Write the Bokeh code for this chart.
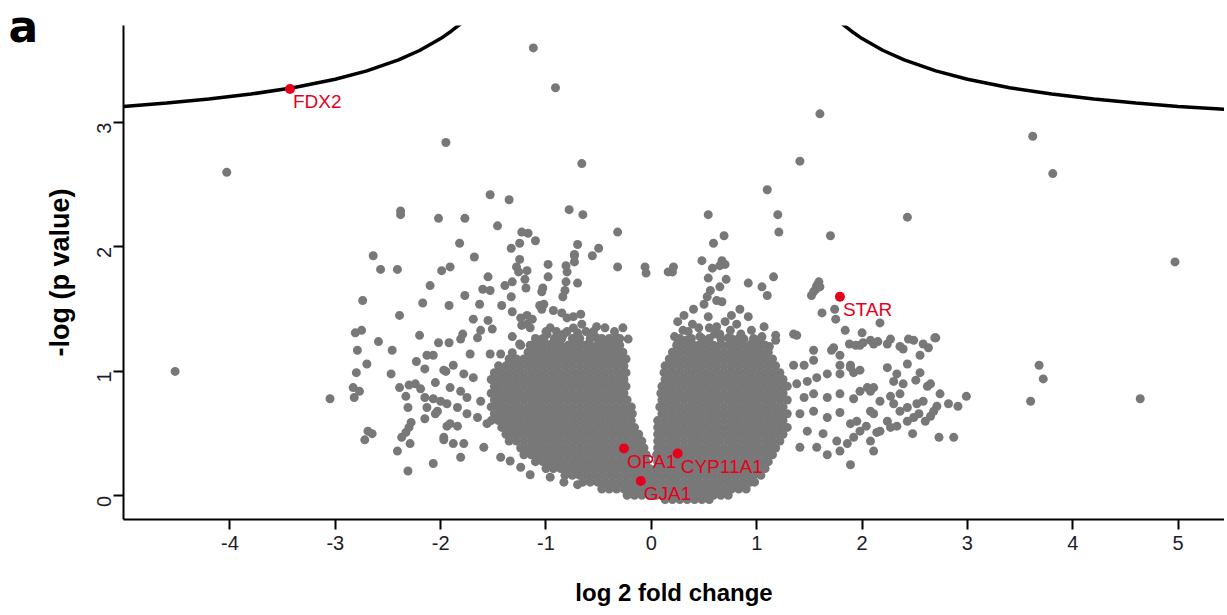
import math
from bokeh.plotting import figure
from bokeh.models import Range1d, ColumnDataSource, FixedTicker
from bokeh.core.properties import value
from bokeh.embed import file_html
from bokeh.resources import INLINE

# ---------------- data ----------------
X_TICKS = [-4, -3, -2, -1, 0, 1, 2, 3, 4, 5]
Y_TICKS = [0, 1, 2, 3]

# threshold curve (left and right branch)
CURVE_L_X = [-5.01, -4.6, -4.2, -3.8, -3.4, -3.0, -2.7, -2.4, -2.2, -2.0, -1.9, -1.80]
CURVE_L_Y = [3.13, 3.157, 3.189, 3.229, 3.28, 3.348, 3.415, 3.503, 3.579, 3.675, 3.734, 3.80]
CURVE_R_X = [1.80, 1.9, 2.0, 2.2, 2.4, 2.7, 3.0, 3.4, 3.8, 4.2, 4.6, 5.0, 5.44]
CURVE_R_Y = [3.80, 3.734, 3.675, 3.579, 3.503, 3.415, 3.348, 3.28, 3.229, 3.189, 3.157, 3.13, 3.106]

# highlighted genes
GENES = ["FDX2", "STAR", "OPA1", "CYP11A1", "GJA1"]
GENE_X = [-3.43, 1.79, -0.26, 0.25, -0.10]
GENE_Y = [3.27, 1.60, 0.38, 0.34, 0.12]

# isolated / fringe proteins
SCATTER_POINTS = [
    (-1.12, 3.60), (-0.91, 3.28), (-1.95, 2.84), (-4.03, 2.60), (-0.66, 2.67), (1.60, 3.07),
    (1.41, 2.69), (1.10, 2.46), (1.20, 2.26), (1.21, 2.12), (1.70, 2.09), (0.54, 2.26),
    (0.69, 2.09), (0.59, 2.03), (-1.53, 2.42), (-1.35, 2.38), (-1.77, 2.23), (-2.02, 2.23),
    (-1.46, 2.17), (-1.82, 2.03), (-1.23, 2.12), (-1.17, 2.11), (-1.25, 2.03), (-1.10, 2.05),
    (-1.33, 1.99), (-0.78, 2.30), (-0.65, 2.26), (-0.32, 2.12), (-0.70, 2.02), (-0.50, 1.99),
    (-0.73, 1.93), (-0.56, 1.93), (-1.68, 1.92), (-1.25, 1.90), (0.48, 1.89), (0.67, 1.89),
    (3.62, 2.89), (3.81, 2.59), (2.43, 2.24), (4.97, 1.88), (4.64, 0.78), (2.99, 0.80),
    (3.60, 0.76), (3.68, 1.05), (3.72, 0.94), (2.70, 1.27), (2.87, 0.47), (2.73, 0.47),
    (-2.38, 2.29), (-2.38, 2.26), (-2.64, 1.93), (-2.57, 1.82), (-2.41, 1.82), (-1.99, 1.81),
    (-1.91, 1.84), (-2.10, 1.69), (-2.74, 1.57), (-2.17, 1.55), (-1.92, 1.53), (-2.39, 1.45),
    (-2.81, 1.31), (-2.75, 1.33), (-2.20, 1.29), (-2.59, 1.24), (-2.02, 1.23), (-1.92, 1.23),
    (-2.79, 1.17), (-2.46, 1.17),
    (-4.52, 1.00), (-3.05, 0.78), (-2.70, 1.06), (-2.80, 0.99), (-2.47, 0.98), (-2.23, 1.08),
    (-2.13, 1.13), (-2.07, 1.13), (-2.15, 1.02), (-2.05, 0.91), (-1.95, 1.00), (-2.83, 0.87),
    (-2.77, 0.84), (-2.82, 0.79), (-2.39, 0.87), (-2.30, 0.89), (-2.24, 0.90), (-2.19, 0.86),
    (-2.33, 0.80), (-2.15, 0.79), (-2.07, 0.78), (-2.00, 0.76), (-2.31, 0.71), (-2.13, 0.71),
    (-2.03, 0.68), (-2.05, 0.66), (-2.15, 0.62), (-1.94, 0.56), (-2.28, 0.59), (-2.30, 0.55),
    (-2.33, 0.51), (-2.37, 0.47), (-2.69, 0.52), (-2.65, 0.50), (-2.72, 0.45), (-2.29, 0.42),
    (-1.97, 0.45), (-2.41, 0.36), (-2.07, 0.26), (-2.31, 0.20),
    (-0.73, 1.94), (-0.73, 1.88), (-0.32, 1.84), (-1.28, 1.84), (-1.18, 1.81), (-1.26, 1.80),
    (-0.98, 1.86), (-0.98, 1.76), (-0.81, 1.85), (-0.80, 1.80), (-1.55, 1.76), (-1.20, 1.74),
    (-0.81, 1.72), (-0.70, 1.71), (-1.32, 1.72), (-1.39, 1.69), (-1.19, 1.67), (-1.60, 1.66),
    (-1.53, 1.65), (-1.03, 1.67), (-1.04, 1.64), (-0.82, 1.65), (-0.84, 1.60), (-1.77, 1.61),
    (-1.33, 1.60), (-1.63, 1.54), (-1.42, 1.53), (-1.06, 1.53), (-1.02, 1.54), (-1.04, 1.50),
    (-1.32, 1.48), (-0.93, 1.49), (-0.85, 1.47), (-0.80, 1.43), (-0.74, 1.44), (-0.67, 1.46),
    (-1.69, 1.42), (-1.55, 1.41), (-1.24, 1.43), (-1.18, 1.45), (-1.13, 1.42), (-1.23, 1.37),
    (-1.18, 1.38), (-1.15, 1.35), (-1.51, 1.34), (-1.62, 1.33), (-1.65, 1.27), (-1.79, 1.30),
    (-1.81, 1.26), (-1.32, 1.28), (-0.96, 1.35), (-0.99, 1.30), (-1.02, 1.26), (-0.66, 1.38),
    (-0.74, 1.35), (-0.70, 1.31), (-0.83, 1.30), (-0.88, 1.25), (-0.52, 1.36), (-0.44, 1.35),
    (-0.27, 1.35), (-0.22, 1.26), (-0.33, 1.27), (-0.39, 1.23), (-0.52, 1.27), (-1.72, 1.14),
    (-1.53, 1.14), (-1.43, 1.14), (-1.32, 1.15), (-0.06, 1.84), (-0.05, 1.79), (0.16, 1.80),
    (-1.15, 1.21), (-1.05, 1.20), (-0.95, 1.22), (-0.88, 1.19), (-0.78, 1.21), (-0.70, 1.20),
    (-0.60, 1.22), (-0.50, 1.20), (-0.42, 1.19), (-0.35, 1.21), (-1.25, 1.22),
    (-1.88, 1.05), (-1.97, 1.01), (-1.78, 0.98), (-1.69, 0.95), (-1.91, 0.87), (-1.81, 0.84),
    (-1.75, 0.79), (-1.62, 0.76), (-1.94, 0.74), (-1.84, 0.71), (-1.75, 0.66), (-1.65, 0.63),
    (-1.91, 0.58), (-1.84, 0.56), (-1.56, 0.58), (-1.97, 0.47), (-1.88, 0.42), (-1.78, 0.42),
    (-1.59, 0.39), (-1.81, 0.31), (-1.43, 0.31), (-1.34, 0.28), (-1.24, 0.23), (-1.15, 0.17),
    (-0.96, 0.15), (-0.83, 0.11), (-0.70, 0.09),
    (0.21, 1.84), (0.20, 1.80), (0.58, 1.83), (0.65, 1.85), (0.70, 1.86), (0.54, 1.75),
    (0.71, 1.74), (0.65, 1.68), (0.92, 1.71), (1.16, 1.76), (1.05, 1.68), (1.10, 1.61),
    (0.56, 1.65), (0.53, 1.60), (0.62, 1.57), (0.67, 1.56), (0.50, 1.54), (0.40, 1.50),
    (0.31, 1.45), (0.39, 1.38), (0.54, 1.44), (0.84, 1.50), (0.76, 1.45), (0.81, 1.38),
    (0.92, 1.44), (1.07, 1.36), (1.18, 1.29), (1.62, 1.47), (1.74, 1.50), (2.17, 1.39),
    (2.00, 1.31), (1.88, 1.22), (2.01, 1.23), (2.08, 1.25), (2.15, 1.24), (2.39, 1.18),
    (2.49, 1.25), (1.35, 1.30), (1.38, 1.29), (1.18, 1.25), (1.54, 1.17), (1.71, 1.17),
    (1.79, 1.13), (1.59, 1.72), (1.57, 1.69), (1.56, 1.66), (1.54, 1.64), (1.52, 1.61),
    (1.60, 1.68),
    (0.25, 1.22), (0.33, 1.25), (0.40, 1.21), (0.46, 1.28), (0.52, 1.23), (0.60, 1.30),
    (0.66, 1.22), (0.73, 1.27), (0.80, 1.21), (0.88, 1.26), (0.95, 1.22), (1.02, 1.19),
    (0.30, 1.33), (0.45, 1.35), (0.62, 1.36), (0.70, 1.40), (0.22, 1.28), (0.25, 1.40),
    (0.35, 1.32), (0.55, 1.35), (0.65, 1.30), (0.75, 1.33), (0.85, 1.30), (0.95, 1.33),
    (1.05, 1.28), (1.12, 1.20),
    (1.35, 1.05), (1.45, 1.05), (1.54, 1.09), (1.73, 1.19), (1.89, 1.03), (1.98, 1.21),
    (2.11, 1.22), (2.24, 1.22), (2.58, 1.22), (1.38, 0.90), (1.48, 0.92), (1.57, 0.95),
    (1.67, 0.98), (1.79, 0.98), (1.92, 0.99), (2.05, 0.87), (2.11, 0.87), (2.24, 1.03),
    (2.30, 0.92), (2.39, 0.90), (2.43, 1.06), (2.55, 0.99), (2.65, 0.90), (1.45, 0.79),
    (1.54, 0.82), (1.67, 0.79), (1.79, 0.82), (1.92, 0.78), (1.98, 0.84), (2.08, 0.84),
    (2.17, 0.76), (2.30, 0.74), (2.36, 0.82), (2.43, 0.71), (2.52, 0.74), (2.58, 0.76),
    (2.68, 0.68), (1.41, 0.66), (1.54, 0.68), (1.67, 0.63), (1.79, 0.67), (1.89, 0.58),
    (1.95, 0.60), (2.11, 0.66), (2.24, 0.60), (2.27, 0.55), (2.36, 0.68), (2.49, 0.63),
    (2.60, 0.60), (1.48, 0.52), (1.63, 0.50), (1.76, 0.44), (1.86, 0.42), (1.92, 0.47),
    (1.98, 0.52), (2.08, 0.44), (2.11, 0.36), (2.17, 0.52), (1.41, 0.39), (1.57, 0.39),
    (1.67, 0.33), (1.79, 0.36), (1.89, 0.25),
    (1.75, 1.42), (1.84, 1.33), (1.94, 1.21), (2.27, 1.26), (2.36, 1.20), (2.44, 1.26),
    (2.55, 1.13), (2.63, 1.19), (2.69, 1.27), (2.33, 0.98), (2.51, 0.93), (2.62, 0.88),
    (2.74, 0.82), (2.82, 0.74), (2.91, 0.72), (2.71, 0.72), (2.65, 0.64), (2.54, 0.66),
    (2.43, 0.60), (2.33, 0.56), (2.14, 0.51), (2.04, 0.56), (2.48, 0.50), (2.08, 0.68),
    (2.27, 0.80), (1.98, 1.01), (1.89, 1.05), (1.79, 1.05),
]

# dense core of the left cloud: one row of x values per y level
LEFT_CORE_Y = [1.32, 1.265, 1.21, 1.155, 1.10, 1.045, 0.99, 0.935, 0.88, 0.825, 0.77, 0.715, 0.66, 0.605,
               0.55, 0.495, 0.44, 0.385, 0.33, 0.275, 0.22, 0.165, 0.11, 0.055, 0.005]
LEFT_CORE_X = [
    [-1.00, -0.90, -0.80, -0.62, -0.55, -0.35],
    [-1.10, -1.03, -0.92, -0.85, -0.75, -0.68, -0.58, -0.47, -0.40, -0.30],
    [-1.24, -1.14, -1.07, -1.00, -0.93, -0.86, -0.79, -0.72, -0.65, -0.58, -0.51, -0.44, -0.37, -0.30],
    [-1.17, -1.10, -1.03, -0.96, -0.89, -0.82, -0.75, -0.68, -0.61, -0.54, -0.47, -0.40, -0.33, -0.27],
    [-1.35, -1.28, -1.21, -1.14, -1.07, -1.00, -0.93, -0.86, -0.79, -0.72, -0.65, -0.58, -0.51, -0.44, -0.37, -0.30, -0.24],
    [-1.45, -1.38, -1.31, -1.24, -1.17, -1.10, -1.03, -0.96, -0.89, -0.82, -0.75, -0.68, -0.61, -0.54, -0.47, -0.40, -0.33, -0.26],
    [-1.49, -1.42, -1.35, -1.28, -1.21, -1.14, -1.07, -1.00, -0.93, -0.86, -0.79, -0.72, -0.65, -0.58, -0.51, -0.44, -0.37, -0.30, -0.24],
    [-1.52, -1.45, -1.38, -1.31, -1.24, -1.17, -1.10, -1.03, -0.96, -0.89, -0.82, -0.75, -0.68, -0.61, -0.54, -0.47, -0.40, -0.33, -0.26],
    [-1.49, -1.42, -1.35, -1.28, -1.21, -1.14, -1.07, -1.00, -0.93, -0.86, -0.79, -0.72, -0.65, -0.58, -0.51, -0.44, -0.37, -0.30, -0.24],
    [-1.52, -1.45, -1.38, -1.31, -1.24, -1.17, -1.10, -1.03, -0.96, -0.89, -0.82, -0.75, -0.68, -0.61, -0.54, -0.47, -0.40, -0.33, -0.26],
    [-1.49, -1.42, -1.35, -1.28, -1.21, -1.14, -1.07, -1.00, -0.93, -0.86, -0.79, -0.72, -0.65, -0.58, -0.51, -0.44, -0.37, -0.30, -0.23],
    [-1.52, -1.45, -1.38, -1.31, -1.24, -1.17, -1.10, -1.03, -0.96, -0.89, -0.82, -0.75, -0.68, -0.61, -0.54, -0.47, -0.40, -0.33, -0.26, -0.19],
    [-1.49, -1.42, -1.35, -1.28, -1.21, -1.14, -1.07, -1.00, -0.93, -0.86, -0.79, -0.72, -0.65, -0.58, -0.51, -0.44, -0.37, -0.30, -0.23, -0.18],
    [-1.52, -1.45, -1.38, -1.31, -1.24, -1.17, -1.10, -1.03, -0.96, -0.89, -0.82, -0.75, -0.68, -0.61, -0.54, -0.47, -0.40, -0.33, -0.26, -0.19],
    [-1.42, -1.35, -1.28, -1.21, -1.14, -1.07, -1.00, -0.93, -0.86, -0.79, -0.72, -0.65, -0.58, -0.51, -0.44, -0.37, -0.30, -0.23, -0.16],
    [-1.38, -1.31, -1.24, -1.17, -1.10, -1.03, -0.96, -0.89, -0.82, -0.75, -0.68, -0.61, -0.54, -0.47, -0.40, -0.33, -0.26, -0.19, -0.12],
    [-1.35, -1.28, -1.21, -1.14, -1.07, -1.00, -0.93, -0.86, -0.79, -0.72, -0.65, -0.58, -0.51, -0.44, -0.37, -0.30, -0.23, -0.16, -0.09],
    [-1.24, -1.17, -1.10, -1.03, -0.96, -0.89, -0.82, -0.75, -0.68, -0.61, -0.54, -0.47, -0.40, -0.33, -0.26, -0.19, -0.12, -0.07],
    [-1.21, -1.14, -1.07, -1.00, -0.93, -0.86, -0.79, -0.72, -0.65, -0.58, -0.51, -0.44, -0.37, -0.30, -0.23, -0.16, -0.09, -0.05],
    [-1.10, -1.03, -0.96, -0.89, -0.82, -0.75, -0.68, -0.61, -0.54, -0.47, -0.40, -0.33, -0.26, -0.19, -0.12, -0.05],
    [-1.00, -0.93, -0.86, -0.79, -0.72, -0.65, -0.58, -0.51, -0.44, -0.37, -0.30, -0.23, -0.16, -0.09, -0.02],
    [-0.82, -0.75, -0.68, -0.61, -0.54, -0.47, -0.40, -0.33, -0.26, -0.19, -0.12, -0.05, -0.01],
    [-0.65, -0.58, -0.51, -0.44, -0.37, -0.30, -0.23, -0.16, -0.09, -0.02],
    [-0.47, -0.40, -0.33, -0.26, -0.19, -0.12, -0.05, 0.01],
    [-0.23, -0.16, -0.09, -0.02, 0.03],
]

# dense core of the right cloud
RIGHT_CORE_Y = [1.265, 1.21, 1.155, 1.10, 1.045, 0.99, 0.935, 0.88, 0.825, 0.77, 0.715, 0.66, 0.605,
                0.55, 0.495, 0.44, 0.385, 0.33, 0.275, 0.22, 0.165, 0.11, 0.055, 0.005, -0.03]
RIGHT_CORE_X = [
    [0.27, 0.38, 0.48, 0.55, 0.66, 0.76, 0.83, 0.97, 1.04],
    [0.24, 0.31, 0.38, 0.45, 0.52, 0.59, 0.66, 0.73, 0.80, 0.87, 0.94, 1.01, 1.08],
    [0.20, 0.27, 0.34, 0.41, 0.48, 0.55, 0.62, 0.69, 0.76, 0.83, 0.90, 0.97, 1.04, 1.11],
    [0.17, 0.24, 0.31, 0.38, 0.45, 0.52, 0.59, 0.66, 0.73, 0.80, 0.87, 0.94, 1.01, 1.08, 1.15],
    [0.13, 0.20, 0.27, 0.34, 0.41, 0.48, 0.55, 0.62, 0.69, 0.76, 0.83, 0.90, 0.97, 1.04, 1.11, 1.18],
    [0.12, 0.17, 0.24, 0.31, 0.38, 0.45, 0.52, 0.59, 0.66, 0.73, 0.80, 0.87, 0.94, 1.01, 1.08, 1.15, 1.22],
    [0.13, 0.20, 0.27, 0.34, 0.41, 0.48, 0.55, 0.62, 0.69, 0.76, 0.83, 0.90, 0.97, 1.04, 1.11, 1.18, 1.25],
    [0.10, 0.17, 0.24, 0.31, 0.38, 0.45, 0.52, 0.59, 0.66, 0.73, 0.80, 0.87, 0.94, 1.01, 1.08, 1.15, 1.22, 1.29],
    [0.09, 0.13, 0.20, 0.27, 0.34, 0.41, 0.48, 0.55, 0.62, 0.69, 0.76, 0.83, 0.90, 0.97, 1.04, 1.11, 1.18, 1.25],
    [0.10, 0.17, 0.24, 0.31, 0.38, 0.45, 0.52, 0.59, 0.66, 0.73, 0.80, 0.87, 0.94, 1.01, 1.08, 1.15, 1.22, 1.29],
    [0.08, 0.13, 0.20, 0.27, 0.34, 0.41, 0.48, 0.55, 0.62, 0.69, 0.76, 0.83, 0.90, 0.97, 1.04, 1.11, 1.18, 1.25],
    [0.10, 0.17, 0.24, 0.31, 0.38, 0.45, 0.52, 0.59, 0.66, 0.73, 0.80, 0.87, 0.94, 1.01, 1.08, 1.15, 1.22, 1.29],
    [0.06, 0.13, 0.20, 0.27, 0.34, 0.41, 0.48, 0.55, 0.62, 0.69, 0.76, 0.83, 0.90, 0.97, 1.04, 1.11, 1.18, 1.25],
    [0.06, 0.10, 0.17, 0.24, 0.31, 0.38, 0.45, 0.52, 0.59, 0.66, 0.73, 0.80, 0.87, 0.94, 1.01, 1.08, 1.15, 1.22, 1.29],
    [0.06, 0.13, 0.20, 0.27, 0.34, 0.41, 0.48, 0.55, 0.62, 0.69, 0.76, 0.83, 0.90, 0.97, 1.04, 1.11, 1.18, 1.25],
    [0.06, 0.10, 0.17, 0.24, 0.31, 0.38, 0.45, 0.52, 0.59, 0.66, 0.73, 0.80, 0.87, 0.94, 1.01, 1.08, 1.15, 1.22],
    [0.06, 0.13, 0.20, 0.27, 0.34, 0.41, 0.48, 0.55, 0.62, 0.69, 0.76, 0.83, 0.90, 0.97, 1.04, 1.11, 1.18],
    [0.05, 0.10, 0.17, 0.24, 0.31, 0.38, 0.45, 0.52, 0.59, 0.66, 0.73, 0.80, 0.87, 0.94, 1.01, 1.08, 1.15],
    [0.06, 0.13, 0.20, 0.27, 0.34, 0.41, 0.48, 0.55, 0.62, 0.69, 0.76, 0.83, 0.90, 0.97, 1.04, 1.11],
    [0.05, 0.10, 0.17, 0.24, 0.31, 0.38, 0.45, 0.52, 0.59, 0.66, 0.73, 0.80, 0.87, 0.94, 1.01, 1.08],
    [0.03, 0.06, 0.13, 0.20, 0.27, 0.34, 0.41, 0.48, 0.55, 0.62, 0.69, 0.76, 0.83, 0.90, 0.97, 1.04],
    [0.03, 0.10, 0.17, 0.24, 0.31, 0.38, 0.45, 0.52, 0.59, 0.66, 0.73, 0.80, 0.87, 0.94, 0.98],
    [0.02, 0.06, 0.13, 0.20, 0.27, 0.34, 0.41, 0.48, 0.55, 0.62, 0.69, 0.76, 0.83, 0.90],
    [0.05, 0.10, 0.17, 0.24, 0.31, 0.38, 0.45, 0.52, 0.59, 0.66, 0.73],
    [0.13, 0.20, 0.27, 0.34, 0.41, 0.48, 0.55],
]

# ---------------- assemble ----------------
gray_x = [pt[0] for pt in SCATTER_POINTS]
gray_y = [pt[1] for pt in SCATTER_POINTS]
for yv, row in zip(LEFT_CORE_Y, LEFT_CORE_X):
    gray_x.extend(row)
    gray_y.extend([yv] * len(row))
for yv, row in zip(RIGHT_CORE_Y, RIGHT_CORE_X):
    gray_x.extend(row)
    gray_y.extend([yv] * len(row))

GRAY = "#787878"
RED = "#e5001c"
FONT = "Liberation Sans"

p = figure(width=1224, height=610, output_backend="svg", toolbar_location=None,
           x_range=Range1d(-5.01, 5.44), y_range=Range1d(-0.19, 3.78),
           min_border_left=123, min_border_right=0, min_border_top=25, min_border_bottom=91,
           title="a", title_location="above")
p.outline_line_color = None
p.xgrid.visible = False
p.ygrid.visible = False
p.background_fill_color = "white"
p.border_fill_color = "white"

# panel letter "a" drawn as the figure title, pulled into the top-left corner
p.title.text_font = "DejaVu Sans"
p.title.text_font_size = "44px"
p.title.text_font_style = "bold"
p.title.text_color = "black"
p.title.align = "left"
p.title.vertical_align = "bottom"
p.title.offset = -115
p.title.standoff = -53

p.scatter(gray_x, gray_y, size=9, fill_color=GRAY, line_color=None)

p.line(CURVE_L_X, CURVE_L_Y, line_color="black", line_width=3.5)
p.line(CURVE_R_X, CURVE_R_Y, line_color="black", line_width=3.5)

src = ColumnDataSource(dict(x=GENE_X, y=GENE_Y, name=GENES))
p.scatter("x", "y", source=src, size=10, fill_color=RED, line_color=None)
p.text("x", "y", text="name", source=src, text_color=RED, text_font=value(FONT),
       text_font_size="19px", text_baseline="top", text_align="left", x_offset=3, y_offset=2)

for ax in (p.xaxis[0], p.yaxis[0]):
    ax.axis_line_color = "black"
    ax.axis_line_width = 2
    ax.major_tick_line_color = "black"
    ax.major_tick_line_width = 2
    ax.major_tick_out = 10
    ax.major_tick_in = 0
    ax.minor_tick_line_color = None
    ax.major_label_text_font = FONT
    ax.major_label_text_font_size = "20px"
    ax.major_label_text_color = "#1c1c2a"
    ax.axis_label_text_font = FONT
    ax.axis_label_text_font_style = "bold"
    ax.axis_label_text_color = "black"

p.xaxis.ticker = FixedTicker(ticks=X_TICKS)
p.yaxis.ticker = FixedTicker(ticks=Y_TICKS)
p.xaxis.major_label_overrides = {t: str(t) for t in X_TICKS}
p.yaxis.major_label_overrides = {t: str(t) for t in Y_TICKS}
p.xaxis.axis_label = "log 2 fold change"
p.yaxis.axis_label = "-log (p value)"
p.xaxis.axis_label_text_font_size = "24px"
p.yaxis.axis_label_text_font_size = "27px"
p.xaxis.major_label_standoff = 6
p.xaxis.axis_label_standoff = 26
p.yaxis.major_label_orientation = math.pi / 2
p.yaxis.major_label_standoff = 9
p.yaxis.axis_label_standoff = 13

open("out.html", "w").write(file_html(p, INLINE))
